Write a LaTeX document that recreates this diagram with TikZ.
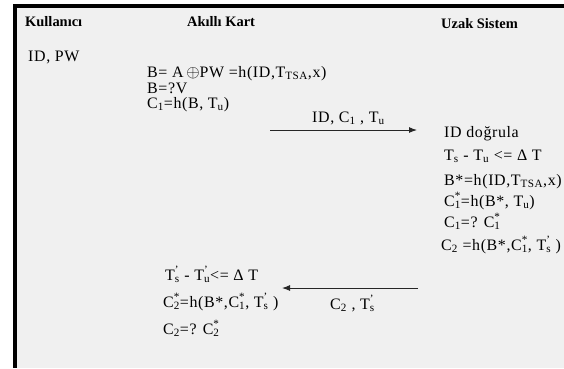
\documentclass[tikz,border=0pt]{standalone}
\usepackage{fontspec}
\setmainfont{Liberation Serif}
\usetikzlibrary{arrows.meta}
\definecolor{panelgray}{HTML}{F0F0F0}
\newcommand{\supsub}[2]{\makebox[0pt][l]{\textsuperscript{#1}}\textsubscript{#2}}

\begin{document}
\begin{tikzpicture}[
  x=1bp, y=-1bp,
  font=\fontsize{16}{18}\selectfont\addfontfeature{LetterSpace=4},
  head/.style={anchor=base west, inner sep=0pt, font=\fontsize{14.5}{16}\selectfont\bfseries},
  txt/.style={anchor=base west, inner sep=0pt},
  msg/.style={-{Latex[length=8bp,width=6bp]}, line width=1bp, draw=black!85}
]

\def\cardX{147}
\def\srvX{444}

\useasboundingbox (0,0) rectangle (564,368);

% Panel and frame.
\fill[panelgray] (13,4) rectangle (564,368);
\fill[black] (13,4) rectangle (564,7.5);
\fill[black] (13,4) rectangle (17,368);

% Parties.
\node[head] (user) at (25,26) {Kullanıcı};
\node[head] (card) at (187,26) {Akıllı Kart};
\node[head] (server) at (441,28) {Uzak Sistem};

% User and smart card steps.
\node[txt] (idpw) at (28,61) {ID, PW};
\node[txt] (bEq) at (\cardX,77) {B= A\,$\oplus$PW =h(ID,T\textsubscript{TSA},x)};
\node[txt] (bCheck) at (\cardX,93) {B=?V};
\node[txt] (cOne) at (\cardX,108) {C\textsubscript{1}=h(B, T\textsubscript{u})};

% Login request.
\coordinate (reqStart) at (270,130);
\coordinate (reqEnd) at (417,130);
\draw[msg] (reqStart) -- (reqEnd);
\node[txt] (reqLabel) at (312,122) {ID, C\textsubscript{1} , T\textsubscript{u}};

% Remote system checks.
\node[txt] (idCheck) at (\srvX,137) {ID doğrula};
\node[txt] (timeCheck) at (\srvX,160) {T\textsubscript{s} - T\textsubscript{u} <= Δ T};
\node[txt] (bStar) at (\srvX,185) {B*=h(ID,T\textsubscript{TSA},x)};
\node[txt] (cOneStar) at (\srvX,206) {C\supsub{*}{1}=h(B*, T\textsubscript{u})};
\node[txt] (cOneCheck) at (\srvX,227) {C\textsubscript{1}=? C\supsub{*}{1}};
\node[txt] (cTwo) at (441,250) {C\textsubscript{2} =h(B*,C\supsub{*}{1}, T\supsub{'}{s} )};

% Reply.
\coordinate (repStart) at (418,288);
\coordinate (repEnd) at (282,288);
\draw[msg] (repStart) -- (repEnd);
\node[txt] (repLabel) at (330,309) {C\textsubscript{2} , T\supsub{'}{s}};

% Smart card checks.
\node[txt] (timeCheckCard) at (165,280) {T\supsub{'}{s} - T\supsub{'}{u}<= Δ T};
\node[txt] (cTwoStar) at (163,307) {C\supsub{*}{2}=h(B*,C\supsub{*}{1}, T\supsub{'}{s} )};
\node[txt] (cTwoCheck) at (163,334) {C\textsubscript{2}=? C\supsub{*}{2}};

\end{tikzpicture}
\end{document}
